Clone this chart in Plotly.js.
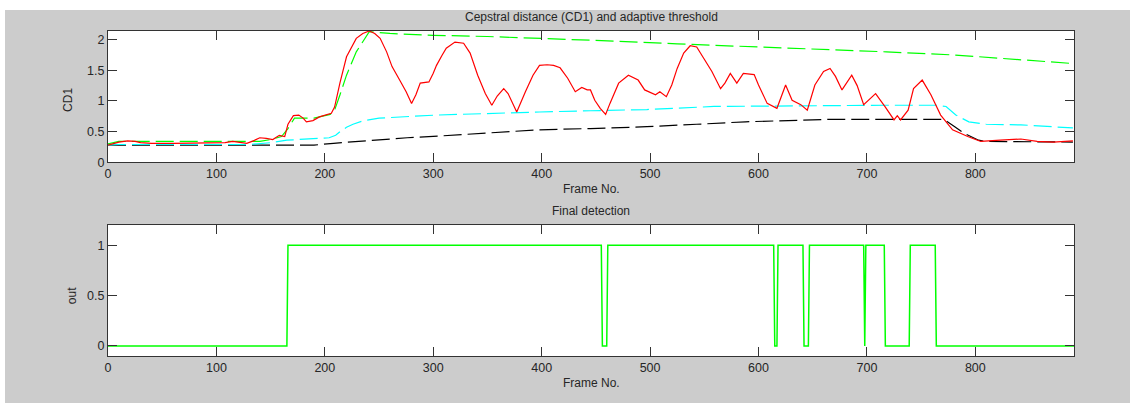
<!DOCTYPE html>
<html>
<head>
<meta charset="utf-8">
<script src="https://cdn.plot.ly/plotly-3.0.1.min.js"></script>
<style>
html,body{margin:0;padding:0;background:#ffffff;width:1130px;height:403px;overflow:hidden;}
#chart{position:absolute;left:5px;top:10px;width:1125px;height:393px;background:#cccccc;}
</style>
</head>
<body>
<div id="chart"></div>
<script>
// CD1 (red)
const cdFrames = [0,5,10,18,25,30,40,60,80,100,108,115,122,128,134,140,146,152,158,163,166,171,176,180,183,189,195,202,206,209,214,220,225,229,235,241,246,251,257,262,269,275,280,284,288,296,300,303,308,312,320,328,334,341,348,354,359,365,369,373,377,385,392,398,405,411,417,424,431,437,442,445,449,454,459,463,471,480,489,495,505,509,515,520,525,531,537,543,551,557,565,569,574,580,586,596,600,608,617,625,631,639,645,652,660,666,671,677,686,691,697,708,717,725,728,731,738,743,751,759,768,779,793,805,823,842,857,872,890];
const cdValues = [0.28,0.31,0.33,0.35,0.34,0.32,0.31,0.31,0.31,0.31,0.32,0.34,0.33,0.31,0.35,0.40,0.39,0.37,0.44,0.42,0.62,0.76,0.77,0.72,0.66,0.68,0.74,0.78,0.80,0.90,1.30,1.72,1.90,2.02,2.10,2.14,2.10,2.02,1.80,1.56,1.34,1.15,0.96,1.10,1.29,1.31,1.45,1.58,1.74,1.86,1.96,1.94,1.78,1.42,1.12,0.93,1.08,1.20,1.12,0.98,0.82,1.15,1.42,1.58,1.59,1.58,1.54,1.37,1.15,1.22,1.18,1.18,1.01,0.88,0.78,0.96,1.29,1.42,1.34,1.18,1.10,1.15,1.07,1.26,1.53,1.78,1.90,1.88,1.64,1.48,1.20,1.29,1.45,1.29,1.45,1.43,1.26,0.96,0.88,1.26,1.01,0.94,0.85,1.26,1.48,1.53,1.40,1.18,1.42,1.25,0.94,1.12,0.90,0.69,0.76,0.69,0.85,1.20,1.34,1.10,0.77,0.53,0.42,0.34,0.36,0.38,0.34,0.33,0.35];

// Upper threshold (green dashed)
const upFrames = [0,10,140,150,160,166,172,190,205,209,214,220,229,241,260,300,350,400,445,525,588,657,718,780,826,890];
const upValues = [0.30,0.34,0.34,0.37,0.42,0.55,0.72,0.72,0.78,0.85,1.10,1.42,1.80,2.13,2.10,2.07,2.05,2.02,1.99,1.93,1.89,1.85,1.80,1.75,1.69,1.61];

// Middle threshold (cyan dashed)
const midFrames = [0,10,130,150,165,190,204,210,214,220,226,236,250,303,353,398,445,497,559,620,666,718,764,773,782,794,810,842,890];
const midValues = [0.28,0.29,0.29,0.32,0.36,0.38,0.40,0.44,0.50,0.57,0.62,0.68,0.72,0.77,0.80,0.82,0.84,0.86,0.91,0.92,0.93,0.93,0.93,0.91,0.77,0.66,0.62,0.61,0.56];

// Lower threshold (black dashed)
const lowFrames = [0,190,208,223,245,276,307,353,398,445,497,543,588,666,771,781,790,803,810,890];
const lowValues = [0.28,0.28,0.31,0.33,0.36,0.40,0.43,0.48,0.53,0.55,0.58,0.62,0.66,0.70,0.70,0.58,0.47,0.36,0.34,0.33];

// Final detection (step breakpoints)
const detFrames = [0,165,166,455,456,460,461,614,615,617,618,641,642,646,647,697,698,699,716,717,739,740,763,764,891];
const detValues = [0,0,1,1,0,0,1,1,0,0,1,1,0,0,1,1,0,1,1,0,0,1,1,0,0];

const xTicks = [0,100,200,300,400,500,600,700,800];
const yTopTicks = [0,0.5,1,1.5,2];
const yTopLabels = ['0','0.5','1','1.5','2'];
const yBotTicks = [0,0.5,1];
const yBotLabels = ['0','0.5','1'];

const dashPat = '18px,6px';
const traces = [
  {x: lowFrames, y: lowValues, mode:'lines', line:{color:'#000000', width:1.2, dash:dashPat}, xaxis:'x', yaxis:'y'},
  {x: midFrames, y: midValues, mode:'lines', line:{color:'#00ffff', width:1.2, dash:dashPat}, xaxis:'x', yaxis:'y'},
  {x: upFrames, y: upValues, mode:'lines', line:{color:'#00ff00', width:1.2, dash:dashPat}, xaxis:'x', yaxis:'y'},
  {x: cdFrames, y: cdValues, mode:'lines', line:{color:'#ff0000', width:1.2}, xaxis:'x', yaxis:'y'},
  {x: detFrames, y: detValues, mode:'lines', line:{color:'#00ff00', width:1.5}, xaxis:'x2', yaxis:'y2'}
];

const tickFont = {family:'Liberation Sans, Arial, sans-serif', size:12.5, color:'#262626'};
const axCommon = {showline:true, linecolor:'#333333', linewidth:1, mirror:'ticks', ticks:'inside', ticklen:9, tickcolor:'#333333', showgrid:false, zeroline:false, tickfont:tickFont, fixedrange:true};

const layout = {
  width:1125, height:393,
  margin:{l:103, r:56, t:21, b:47},
  paper_bgcolor:'#cccccc', plot_bgcolor:'#ffffff',
  showlegend:false,
  xaxis: Object.assign({}, axCommon, {domain:[0,1], range:[0,891], tickvals:xTicks, anchor:'y'}),
  yaxis: Object.assign({}, axCommon, {domain:[0.596,1], range:[0,2.14], tickvals:yTopTicks, ticktext:yTopLabels, anchor:'x'}),
  xaxis2: Object.assign({}, axCommon, {domain:[0,1], range:[0,891], tickvals:xTicks, anchor:'y2'}),
  yaxis2: Object.assign({}, axCommon, {domain:[0,0.403], range:[-0.1,1.2], tickvals:yBotTicks, ticktext:yBotLabels, anchor:'x2'}),
  annotations:[
    {text:'Cepstral distance (CD1) and adaptive threshold', xref:'paper', yref:'paper', x:0.5, y:1.043, xanchor:'center', yanchor:'middle', showarrow:false, font:{family:'Liberation Sans, Arial, sans-serif', size:12, color:'#262626'}},
    {text:'Final detection', xref:'paper', yref:'paper', x:0.5, y:0.446, xanchor:'center', yanchor:'middle', showarrow:false, font:{family:'Liberation Sans, Arial, sans-serif', size:12, color:'#262626'}},
    {text:'Frame No.', xref:'paper', yref:'paper', x:0.5, y:0.514, xanchor:'center', yanchor:'middle', showarrow:false, font:{family:'Liberation Sans, Arial, sans-serif', size:12, color:'#262626'}},
    {text:'Frame No.', xref:'paper', yref:'paper', x:0.5, y:-0.083, xanchor:'center', yanchor:'middle', showarrow:false, font:{family:'Liberation Sans, Arial, sans-serif', size:12, color:'#262626'}},
    {text:'CD1', xref:'paper', yref:'paper', x:-0.0414, y:0.788, xanchor:'center', yanchor:'middle', textangle:-90, showarrow:false, font:{family:'Liberation Sans, Arial, sans-serif', size:12, color:'#262626'}},
    {text:'out', xref:'paper', yref:'paper', x:-0.037, y:0.185, xanchor:'center', yanchor:'middle', textangle:-90, showarrow:false, font:{family:'Liberation Sans, Arial, sans-serif', size:12, color:'#262626'}}
  ]
};

Plotly.newPlot('chart', traces, layout, {displayModeBar:false, staticPlot:true});
</script>
</body>
</html>
